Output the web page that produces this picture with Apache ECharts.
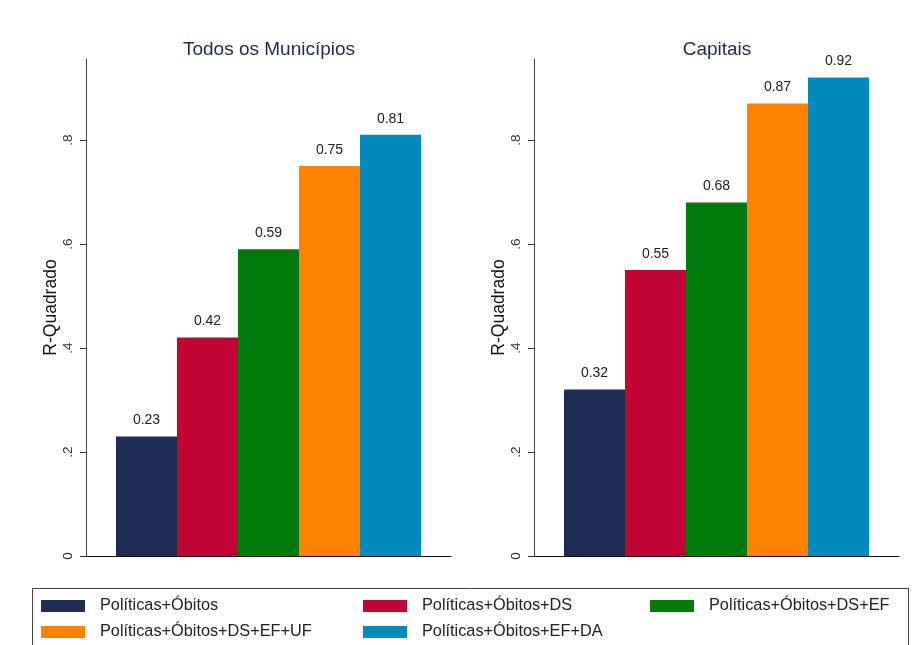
<!DOCTYPE html>
<html>
<head>
<meta charset="utf-8">
<script src="https://cdn.jsdelivr.net/npm/echarts@6/dist/echarts.min.js"></script>
<style>
html,body{margin:0;padding:0;background:#fff;}
#chart{width:917px;height:645px;}
</style>
</head>
<body>
<div id="chart"></div>
<script>
// ---- data ----
const seriesNames = ['Políticas+Óbitos', 'Políticas+Óbitos+DS', 'Políticas+Óbitos+DS+EF', 'Políticas+Óbitos+DS+EF+UF', 'Políticas+Óbitos+EF+DA'];
const todosValues = [0.23, 0.42, 0.59, 0.75, 0.81];
const capitaisValues = [0.32, 0.55, 0.68, 0.87, 0.92];
const panelTitles = ['Todos os Municípios', 'Capitais'];
const yTickValues = [0, 0.2, 0.4, 0.6, 0.8];
const yTickLabels = ['0', '.2', '.4', '.6', '.8'];
const yAxisTitle = 'R-Quadrado';

// ---- styles ----
const colors = ['#1f2d55', '#c10534', '#007a0a', '#ff8200', '#008bbd'];
const FONT = '"Liberation Sans", Arial, Helvetica, sans-serif';
const grids = [
  { left: 86, top: 59, width: 365, height: 497 },
  { left: 534, top: 59, width: 365, height: 497 }
];
const titleCenters = [264, 712];
const yMax = 0.9558;

const chart = echarts.init(document.getElementById('chart'), null, { renderer: 'canvas' });

const xAxes = grids.map((g, i) => ({
  type: 'category', gridIndex: i, data: [''],
  axisLine: { show: true, lineStyle: { color: '#111', width: 1 } },
  axisTick: { show: false }, axisLabel: { show: false }
}));
const yAxes = grids.map((g, i) => ({
  type: 'value', gridIndex: i, min: 0, max: yMax,
  name: yAxisTitle, nameLocation: 'middle', nameRotate: 90, nameGap: 23,
  nameTextStyle: { fontFamily: FONT, fontSize: 17.5, color: '#111' },
  splitLine: { show: false },
  axisLine: { show: true, lineStyle: { color: '#444', width: 1 } },
  axisTick: { show: true, length: 6, customValues: yTickValues, lineStyle: { color: '#333' } },
  axisLabel: {
    rotate: 90, margin: 11, fontFamily: FONT, fontSize: 13.5, color: '#333',
    customValues: yTickValues,
    formatter: v => { const k = yTickValues.findIndex(t => Math.abs(t - v) < 1e-9); return k >= 0 ? yTickLabels[k] : ''; }
  }
}));

const series = [];
[todosValues, capitaisValues].forEach((vals, p) => {
  seriesNames.forEach((name, i) => {
    series.push({
      type: 'bar', name: name, xAxisIndex: p, yAxisIndex: p,
      data: [vals[i]], barWidth: 61, barGap: '0%',
      itemStyle: { color: colors[i] },
      label: { show: true, position: 'top', distance: 9, fontFamily: FONT, fontSize: 14, color: '#222',
        formatter: o => o.value.toFixed(2) },
      animation: false
    });
  });
});

const legendPos = [
  { left: 41, top: 598 }, { left: 363, top: 598 }, { left: 650, top: 598 },
  { left: 41, top: 624 }, { left: 363, top: 624 }
];
const legends = seriesNames.map((name, i) => ({
  data: [name], left: legendPos[i].left, top: legendPos[i].top, padding: 0,
  orient: 'horizontal', icon: 'rect', itemWidth: 44, itemHeight: 12,
  selectedMode: false,
  textStyle: { fontFamily: FONT, fontSize: 16.3, color: '#222', padding: [0, 0, 0, 10] }
}));

chart.setOption({
  backgroundColor: '#fff',
  animation: false,
  color: colors,
  title: panelTitles.map((t, i) => ({
    text: t, left: titleCenters[i], top: 35, textAlign: 'center',
    textStyle: { fontFamily: FONT, fontSize: 19, fontWeight: 'normal', color: '#1e2b4f' }
  })),
  grid: grids,
  xAxis: xAxes,
  yAxis: yAxes,
  legend: legends,
  series: series,
  graphic: [{
    type: 'rect', shape: { x: 32.5, y: 588.5, width: 876, height: 70 },
    style: { fill: 'none', stroke: '#444', lineWidth: 1 }, z: -1, silent: true
  }]
});
</script>
</body>
</html>
